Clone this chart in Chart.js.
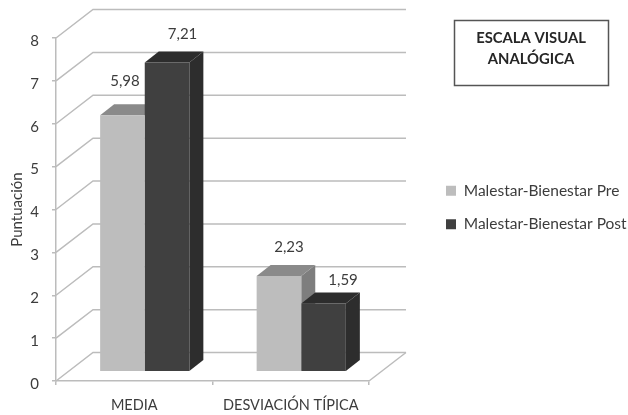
<!DOCTYPE html>
<html>
<head>
<meta charset="utf-8">
<title>Escala visual analógica</title>
<script src="https://cdn.jsdelivr.net/npm/chart.js@4"></script>
<style>
html,body{margin:0;padding:0;background:#fff;}
#wrap{position:relative;width:628px;height:415px;}
</style>
</head>
<body>
<div id="wrap"><canvas id="evaChart" width="628" height="415"></canvas></div>
<script>
/* DATA */
const categories = ["MEDIA", "DESVIACIÓN TÍPICA"];
const preValues = [5.98, 2.23];
const postValues = [7.21, 1.59];
const seriesNames = ["Malestar-Bienestar Pre", "Malestar-Bienestar Post"];
const titleLines = ["ESCALA VISUAL", "ANALÓGICA"];

/* 3D LOOK */
const fontName = "Lato, 'Open Sans', sans-serif";
const textColor = "#3c3c3c";
const wallColor = "#bcbcbc";
const wallDepth = { x: 37, y: -28.5 };
const barShift = { x: 10.5, y: -9.3 };
const barDepth = { x: 14, y: -11 };
const faceColors = [
  { top: "#8a8a8a", side: "#7e7e7e" },
  { top: "#2d2d2d", side: "#2d2d2d" }
];
// label nudges from the top of each bar, per series and category
const labelNudge = [
  [{ x: 2.5, y: -34 }, { x: 10, y: -29 }],
  [{ x: 15.5, y: -28 }, { x: 19.5, y: -23 }]
];

function poly(ctx, points, color){
  ctx.fillStyle = color;
  ctx.beginPath();
  points.forEach((p, i) => i ? ctx.lineTo(p[0], p[1]) : ctx.moveTo(p[0], p[1]));
  ctx.closePath();
  ctx.fill();
}

/* side walls, floor and the receding grid lines */
function drawWalls(chart){
  const { ctx, chartArea: a } = chart;
  const yScale = chart.scales.y;
  ctx.save();
  ctx.strokeStyle = wallColor;
  ctx.lineWidth = 1.5;
  yScale.ticks.forEach(t => {
    const y = yScale.getPixelForValue(t.value);
    ctx.beginPath();
    ctx.moveTo(a.left, y);
    ctx.lineTo(a.left + wallDepth.x, y + wallDepth.y);
    ctx.lineTo(a.right + wallDepth.x, y + wallDepth.y);
    ctx.stroke();
  });
  ctx.beginPath();
  ctx.moveTo(a.right, a.bottom);
  ctx.lineTo(a.right + wallDepth.x, a.bottom + wallDepth.y);
  ctx.stroke();
  ctx.restore();
}

/* top and side faces go under all fronts; the fronts stay shifted back from the floor edge */
const barsPlugin = {
  id: "bars3d",
  beforeDatasetsDraw(chart){
    const { ctx } = chart;
    drawWalls(chart);
    ctx.save();
    ctx.translate(barShift.x, barShift.y);
    chart.data.datasets.forEach((ds, i) => {
      const colors = faceColors[i];
      chart.getDatasetMeta(i).data.forEach(bar => {
        const left = bar.x - bar.width / 2;
        const right = bar.x + bar.width / 2;
        poly(ctx, [[right, bar.y], [right + barDepth.x, bar.y + barDepth.y],
          [right + barDepth.x, bar.base + barDepth.y], [right, bar.base]], colors.side);
        poly(ctx, [[left, bar.y], [left + barDepth.x, bar.y + barDepth.y],
          [right + barDepth.x, bar.y + barDepth.y], [right, bar.y]], colors.top);
      });
    });
  },
  afterDatasetsDraw(chart){
    chart.ctx.restore();
  }
};

/* value labels and the boxed title */
const notesPlugin = {
  id: "notes",
  afterDraw(chart){
    const { ctx } = chart;
    ctx.save();
    ctx.textAlign = "center";
    ctx.textBaseline = "middle";
    ctx.fillStyle = textColor;
    ctx.font = "15px " + fontName;
    chart.data.datasets.forEach((ds, i) => {
      chart.getDatasetMeta(i).data.forEach((bar, j) => {
        const nudge = labelNudge[i][j];
        const text = ds.data[j].toFixed(2).replace(".", ",");
        ctx.fillText(text, bar.x + barShift.x + nudge.x, bar.y + barShift.y + nudge.y);
      });
    });
    ctx.strokeStyle = "#555";
    ctx.lineWidth = 1.5;
    ctx.strokeRect(454.5, 20.5, 154, 65);
    ctx.font = "bold 14.8px " + fontName;
    ctx.fillStyle = "#262626";
    ctx.fillText(titleLines[0], 531, 38.5);
    ctx.fillText(titleLines[1], 531, 59.5);
    ctx.restore();
  }
};

new Chart(document.getElementById("evaChart"), {
  type: "bar",
  data: {
    labels: categories,
    datasets: [
      { label: seriesNames[0], data: preValues, backgroundColor: "#bdbdbd" },
      { label: seriesNames[1], data: postValues, backgroundColor: "#404040" }
    ]
  },
  options: {
    responsive: false,
    animation: false,
    categoryPercentage: 0.57,
    barPercentage: 1,
    scales: {
      x: {
        grid: { offset: true, drawOnChartArea: false, tickLength: 4, color: wallColor, lineWidth: 1.5 },
        border: { color: wallColor, width: 1.5 },
        ticks: { color: textColor, font: { family: fontName, size: 14.5 }, padding: 12, maxRotation: 0 },
        afterFit: s => { s.height = 34; }
      },
      y: {
        min: 0,
        max: 8,
        grid: { drawOnChartArea: false, tickLength: 4, color: wallColor, lineWidth: 1.5 },
        border: { color: wallColor, width: 1.5 },
        ticks: { stepSize: 1, color: textColor, font: { family: fontName, size: 15 }, padding: 13, labelOffset: 3 },
        title: { display: true, text: "Puntuación", color: textColor, font: { family: fontName, size: 15 }, padding: { top: 8, bottom: 0 } },
        afterFit: s => { s.width = 56; }
      },
      // empty axes that keep free space above the plot and behind the receding floor
      spacer: {
        position: "right",
        grid: { display: false },
        border: { display: false },
        ticks: { display: false },
        afterFit: s => { s.width = 59; }
      },
      spacerTop: {
        type: "category",
        position: "top",
        grid: { display: false },
        border: { display: false },
        ticks: { display: false },
        afterFit: s => { s.height = 38; }
      }
    },
    plugins: {
      legend: {
        position: "right",
        maxWidth: 200,
        labels: {
          boxWidth: 10,
          boxHeight: 10,
          padding: 18,
          color: textColor,
          font: { family: fontName, size: 15.5 }
        }
      },
      tooltip: { enabled: false }
    }
  },
  plugins: [barsPlugin, notesPlugin]
});
</script>
</body>
</html>
